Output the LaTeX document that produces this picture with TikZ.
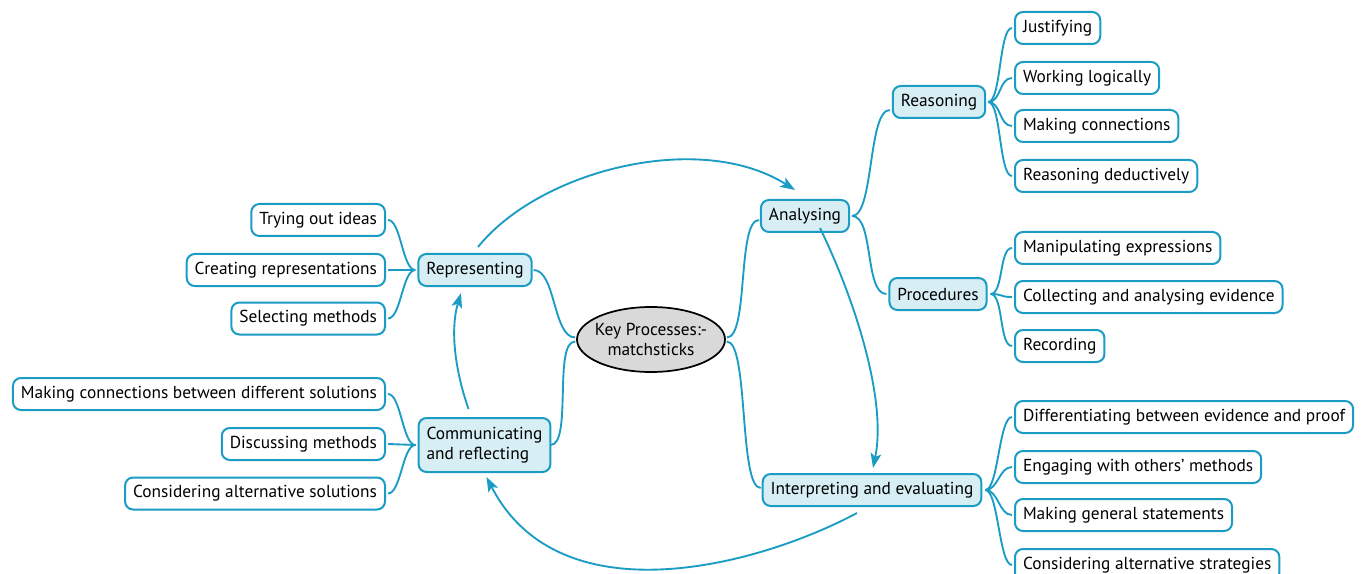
\documentclass[tikz,border=0pt]{standalone}
\usepackage{fontspec}
\setmainfont{PT Sans}
\usetikzlibrary{arrows.meta,calc,shapes.geometric}
\definecolor{lnc}{HTML}{1A9CC4}
\definecolor{bfill}{HTML}{D7EEF5}
\definecolor{efill}{HTML}{D9D9D9}
\tikzset{
  leaf/.style={draw=lnc, line width=1.5pt, rounded corners=6pt, fill=white,
    minimum height=24pt, inner xsep=6pt, inner ysep=3pt, font=\fontsize{13}{15}\selectfont},
  branch/.style={leaf, fill=bfill},
  keynode/.style={ellipse, draw=black, line width=1.3pt, fill=efill,
    minimum width=111pt, minimum height=48.75pt, inner xsep=-14pt, inner ysep=-8pt, align=center,
    font=\fontsize{13}{15.5}\selectfont},
  link/.style={draw=lnc, line width=1.4pt},
  cyc/.style={link, -{Stealth[length=11pt,width=8pt,inset=2.5pt]}}
}
\begin{document}
\begin{tikzpicture}[x=0.75pt,y=-0.75pt]
\clip (0,0) rectangle (1368,574);
\fill[white] (0,0) rectangle (1368,574);
% centre
\node[keynode] (key) at (651,339.5) {Key Processes:-\\matchsticks};
% branches
\node[branch] (ana) at (805,216) {Analysing};
\node[branch] (reas) at (939,102) {Reasoning};
\node[branch] (proc) at (938,294) {Procedures};
\node[branch] (int) at (872,490) {Interpreting and evaluating};
\node[branch] (rep) at (475,270) {Representing};
\node[branch, align=left, minimum height=40.5pt] (com) at (484.5,445) {Communicating\\and reflecting};
% right leaves
\node[leaf, anchor=west] (l1) at (1014,28) {Justifying};
\node[leaf, anchor=west] (l2) at (1014,78) {Working logically};
\node[leaf, anchor=west] (l3) at (1014,126) {Making connections};
\node[leaf, anchor=west] (l4) at (1014,176) {Reasoning deductively};
\node[leaf, anchor=west] (p1) at (1014,248) {Manipulating expressions};
\node[leaf, anchor=west] (p2) at (1014,297) {Collecting and analysing evidence};
\node[leaf, anchor=west] (p3) at (1014,346) {Recording};
\node[leaf, anchor=west] (i1) at (1014,417) {Differentiating between evidence and proof};
\node[leaf, anchor=west] (i2) at (1014,467) {Engaging with others’ methods};
\node[leaf, anchor=west] (i3) at (1014,515) {Making general statements};
\node[leaf, anchor=west] (i4) at (1014,565) {Considering alternative strategies};
% left leaves
\node[leaf, anchor=east] (r1) at (386,220) {Trying out ideas};
\node[leaf, anchor=east] (r2) at (386,270) {Creating representations};
\node[leaf, anchor=east] (r3) at (386,318.5) {Selecting methods};
\node[leaf, anchor=east] (c1) at (386,394) {Making connections between different solutions};
\node[leaf, anchor=east] (c2) at (386,444) {Discussing methods};
\node[leaf, anchor=east] (c3) at (386,493.5) {Considering alternative solutions};
% tree links right
\foreach \c in {l1,l2,l3,l4}{\draw[link] ($(reas.east)+(2,0)$) .. controls +(13,0) and +(-13,0) .. ($(\c.west)+(-2,0)$);}
\foreach \c in {p1,p2,p3}{\draw[link] ($(proc.east)+(3,0)$) .. controls +(13,0) and +(-13,0) .. ($(\c.west)+(-2,0)$);}
\foreach \c in {i1,i2,i3,i4}{\draw[link] ($(int.east)+(3,0)$) .. controls +(13,0) and +(-13,0) .. ($(\c.west)+(-2,0)$);}
\draw[link] ($(ana.east)+(2,0)$) .. controls +(22,0) and +(-22,0) .. ($(reas.west)+(-2,8)$);
\draw[link] ($(ana.east)+(2,0)$) .. controls +(22,0) and +(-22,0) .. ($(proc.west)+(-2,0)$);
% tree links left
\foreach \c in {r1,r2,r3}{\draw[link] ($(rep.west)+(-2,0)$) .. controls +(-13,0) and +(13,0) .. ($(\c.east)+(2,0)$);}
\foreach \c in {c1,c2,c3}{\draw[link] ($(com.west)+(-2,0)$) .. controls +(-13,0) and +(13,0) .. ($(\c.east)+(2,0)$);}
% centre links
\draw[link] ($(key.east)+(1,-2)$) .. controls +(22,0) and +(-22,0) .. ($(ana.west)+(-1,4)$);
\draw[link] ($(key.east)+(1,2)$) .. controls +(22,0) and +(-22,0) .. ($(int.west)+(-1,-2)$);
\draw[link] ($(key.west)+(-1,-2)$) .. controls +(-22,0) and +(22,0) .. ($(rep.east)+(1,0)$);
\draw[link] ($(key.west)+(-1,2)$) .. controls +(-22,0) and +(22,0) .. ($(com.east)+(-1,0)$);
% cycle arrows
\draw[cyc] ($(rep.north)+(3,-6)$) .. controls (540,170) and (700,130) .. ($(ana.north)+(-10,-9)$);
\draw[cyc] ($(ana.south)+(15,-5)$) .. controls (855,300) and (887,400) .. ($(int.north)+(1,-5)$);
\draw[cyc] ($(int.south)+(-15,6)$) .. controls (760,565) and (560,620) .. ($(com.south)+(2,4)$);
\draw[cyc] ($(com.north)+(-16,-8)$) .. controls (455,370) and (450,330) .. ($(rep.south)+(-14,6)$);
\end{tikzpicture}
\end{document}
